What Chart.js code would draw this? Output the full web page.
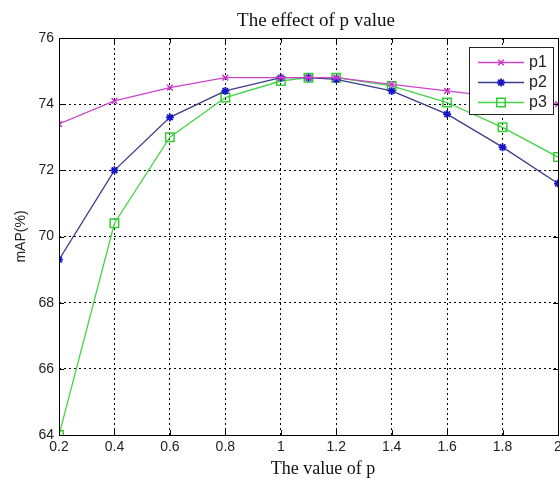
<!DOCTYPE html>
<html>
    <head>
        <meta charset="UTF-8">
        <title>The effect of p value</title>
        <script src="https://cdn.jsdelivr.net/npm/chart.js@4"></script>
        <style>
            html, body {
                margin: 0;
                padding: 0;
                overflow: hidden;
                background: #fff;
            }
            canvas {
                display: block;
            }
        </style>
    </head>
    <body>
        <canvas id="chart" width="600" height="480"></canvas>
        <script>
            const pValues = [0.2, 0.4, 0.6, 0.8, 1.0, 1.1, 1.2, 1.4, 1.6, 1.8, 2.0];
            const p1 = [73.4, 74.1, 74.5, 74.8, 74.8, 74.8, 74.8, 74.6, 74.4, 74.2, 74.0];
            const p2 = [69.3, 72.0, 73.6, 74.4, 74.8, 74.8, 74.75, 74.4, 73.7, 72.7, 71.6];
            const p3 = [64.0, 70.4, 73.0, 74.2, 74.7, 74.8, 74.8, 74.55, 74.05, 73.3, 72.4];
            const xTicks = [0.2, 0.4, 0.6, 0.8, 1, 1.2, 1.4, 1.6, 1.8, 2];
            const yTicks = [64, 66, 68, 70, 72, 74, 76];
            const chartTitle = 'The effect of p value';
            const xTitle = 'The value of p';

            function pts(ys) {
                return pValues.map((x, i) => ({ x: x, y: ys[i] }));
            }

            // box round the plot, inward ticks, titles and a MATLAB style legend
            const matlabBox = {
                id: 'matlabBox',
                afterDraw(chart) {
                    const ctx = chart.ctx;
                    const a = chart.chartArea;
                    const xs = chart.scales.x, ys = chart.scales.y;
                    ctx.save();
                    ctx.strokeStyle = '#000';
                    ctx.lineWidth = 1;
                    ctx.setLineDash([]);
                    ctx.strokeRect(a.left + 0.5, a.top + 0.5, a.right - a.left, a.bottom - a.top);
                    ctx.beginPath();
                    xTicks.forEach(v => {
                        const px = Math.round(xs.getPixelForValue(v)) + 0.5;
                        ctx.moveTo(px, a.bottom); ctx.lineTo(px, a.bottom - 5);
                        ctx.moveTo(px, a.top); ctx.lineTo(px, a.top + 5);
                    });
                    yTicks.forEach(v => {
                        const py = Math.round(ys.getPixelForValue(v)) + 0.5;
                        ctx.moveTo(a.left, py); ctx.lineTo(a.left + 5, py);
                        ctx.moveTo(a.right, py); ctx.lineTo(a.right - 5, py);
                    });
                    ctx.stroke();

                    // titles
                    ctx.fillStyle = '#111';
                    ctx.textAlign = 'center';
                    ctx.textBaseline = 'middle';
                    ctx.font = '19px "Liberation Serif", "Times New Roman", serif';
                    ctx.fillText(chartTitle, 316, 21);
                    ctx.font = '18px "Liberation Serif", "Times New Roman", serif';
                    ctx.fillText(xTitle, 323, 469);

                    // legend
                    const lx = 469, ly = 47, lw = 84, lh = 67;
                    ctx.fillStyle = '#fff';
                    ctx.fillRect(lx, ly, lw, lh);
                    ctx.strokeStyle = '#222';
                    ctx.strokeRect(lx + 0.5, ly + 0.5, lw, lh);
                    ctx.font = '16px "Liberation Sans", Arial, sans-serif';
                    ctx.textAlign = 'left';
                    chart.data.datasets.forEach((ds, i) => {
                        const y = ly + 15 + i * 20;
                        ctx.strokeStyle = ds.borderColor;
                        ctx.lineWidth = 1.3;
                        ctx.beginPath();
                        ctx.moveTo(lx + 9, y + 0.5);
                        ctx.lineTo(lx + 55, y + 0.5);
                        ctx.stroke();
                        ctx.save();
                        ctx.strokeStyle = ds.pointBorderColor;
                        ctx.fillStyle = ds.pointBackgroundColor;
                        ctx.lineWidth = ds.pointBorderWidth;
                        Chart.helpers.drawPoint(ctx, {
                            pointStyle: ds.pointStyle,
                            radius: ds.pointRadius,
                            borderWidth: ds.pointBorderWidth
                        }, lx + 32, y + 0.5);
                        ctx.restore();
                        ctx.fillStyle = '#222';
                        ctx.fillText(ds.label, lx + 60, y + 1);
                    });
                    ctx.restore();
                }
            };

            new Chart(document.getElementById('chart').getContext('2d'), {
                type: 'line',
                data: {
                    datasets: [{
                        label: 'p1',
                        data: pts(p1),
                        borderColor: '#cc44cc',
                        pointBorderColor: '#cc33cc',
                        pointBackgroundColor: 'rgba(0,0,0,0)',
                        pointStyle: 'crossRot',
                        pointRadius: 4,
                        pointBorderWidth: 1.5,
                        borderWidth: 1.3
                    }, {
                        label: 'p2',
                        data: pts(p2),
                        borderColor: '#3c3c8c',
                        pointBorderColor: '#1414c8',
                        pointBackgroundColor: 'rgba(0,0,0,0)',
                        pointStyle: 'star',
                        pointRadius: 4,
                        pointBorderWidth: 1.8,
                        borderWidth: 1.3
                    }, {
                        label: 'p3',
                        data: pts(p3),
                        borderColor: '#44d444',
                        pointBorderColor: '#33cc33',
                        pointBackgroundColor: 'rgba(0,0,0,0)',
                        pointStyle: 'rect',
                        pointRadius: 6,
                        pointBorderWidth: 1.5,
                        borderWidth: 1.3
                    }]
                },
                options: {
                    responsive: false,
                    animation: false,
                    layout: {
                        padding: { top: 38, right: 42, bottom: 0, left: 0 }
                    },
                    plugins: {
                        legend: { display: false },
                        tooltip: { enabled: false },
                        title: { display: false }
                    },
                    scales: {
                        x: {
                            type: 'linear',
                            min: 0.2,
                            max: 2,
                            afterBuildTicks(scale) {
                                scale.ticks = xTicks.map(v => ({ value: v }));
                            },
                            afterFit(scale) { scale.height = 45; },
                            grid: {
                                color: '#000',
                                lineWidth: 1,
                                drawTicks: false
                            },
                            border: { display: false, dash: [2, 3] },
                            ticks: {
                                color: '#222',
                                padding: 4,
                                maxRotation: 0,
                                font: { family: '"Liberation Sans", Arial, sans-serif', size: 14 },
                                callback: v => String(Math.round(v * 10) / 10)
                            }
                        },
                        y: {
                            min: 64,
                            max: 76,
                            afterBuildTicks(scale) {
                                scale.ticks = yTicks.map(v => ({ value: v }));
                            },
                            afterFit(scale) { scale.width = 59; },
                            grid: {
                                color: '#000',
                                lineWidth: 1,
                                drawTicks: false
                            },
                            border: { display: false, dash: [2, 3] },
                            ticks: {
                                color: '#222',
                                padding: 5,
                                font: { family: '"Liberation Sans", Arial, sans-serif', size: 14 }
                            },
                            title: {
                                display: true,
                                text: 'mAP(%)',
                                color: '#222',
                                font: { family: '"Liberation Sans", Arial, sans-serif', size: 14 },
                                padding: { top: 13, bottom: 0 }
                            }
                        }
                    }
                },
                plugins: [matlabBox]
            });
        </script>
    </body>
</html>
